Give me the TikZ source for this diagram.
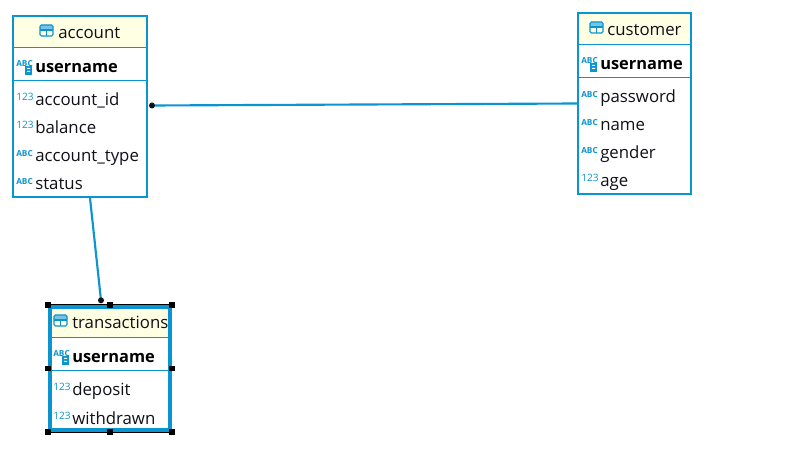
\documentclass[tikz,border=0pt]{standalone}
\usepackage{fontspec}
\setmainfont{Open Sans}
\definecolor{dbblue}{HTML}{0A94D0}
\definecolor{hdr}{HTML}{FFFFE3}
\definecolor{ink}{HTML}{101018}
\tikzset{
 x=0.75pt,y=-0.75pt,
 tablebox/.style={draw=dbblue,line width=1.7pt,fill=white,inner sep=0pt,anchor=north west},
 sepline/.style={draw=dbblue,line width=0.75pt},
 coltext/.style={anchor=base west,inner sep=0pt,font=\fontsize{12.6pt}{14pt}\selectfont,text=ink},
 keytext/.style={coltext,font=\fontsize{12.3pt}{14pt}\selectfont\bfseries,text=black},
 icontext/.style={anchor=base west,inner sep=0pt,font=\fontsize{7.6pt}{9pt}\selectfont,text=dbblue},
 abctext/.style={anchor=base west,inner sep=0pt,font=\fontsize{6.2pt}{7pt}\selectfont\bfseries,text=dbblue},
 link/.style={draw=dbblue,line width=1.6pt},
 linkdot/.style={circle,fill=ink,inner sep=0pt,minimum size=4.5pt},
 handle/.style={rectangle,fill=black,inner sep=0pt,minimum size=4.2pt},
}
% \tblicon{x}{y}: table glyph, top-left at x,y
\newcommand{\tblicon}[2]{
 \fill[dbblue!55,rounded corners=0.6pt] (#1,#2) rectangle ++(13,5);
 \draw[dbblue,line width=0.8pt,rounded corners=1pt] (#1,#2) rectangle ++(13,11);
 \draw[dbblue,line width=0.8pt] (#1,#2+5) -- ++(13,0) (#1+6.5,#2+5) -- ++(0,6);
}
\newcommand{\numcol}[3]{
 \node[icontext] at (#1,#2-5) {123};
 \node[coltext] at (#1+19,#2) {#3};
}
\newcommand{\abccol}[3]{
 \node[abctext] at (#1,#2-5) {ABC};
 \node[coltext] at (#1+19,#2) {#3};
}
\newcommand{\keycol}[3]{
 \node[abctext] at (#1,#2-6) {ABC};
 \fill[dbblue] (#1+9,#2-7) rectangle ++(7,9);
 \fill[white] (#1+11,#2-5) rectangle ++(3,1) (#1+11,#2-2) rectangle ++(3,1);
 \node[keytext] at (#1+19,#2) {#3};
}
\begin{document}
\begin{tikzpicture}
\useasboundingbox (0,0) rectangle (802,473);
\fill[white] (0,0) rectangle (802,473);

% account
\node[tablebox,minimum width=100.3pt,minimum height=135.55pt] (account) at (12,15) {};
\fill[hdr] (14,17) rectangle (146,47);
\draw[sepline] (13,47.5) -- (147,47.5) (13,80.5) -- (147,80.5);
\tblicon{40}{25}
\node[coltext] (accountT) at (58,39) {account};
\keycol{16}{73}{username}
\numcol{16}{106}{account\_id}
\numcol{16}{134}{balance}
\abccol{16}{162}{account\_type}
\abccol{16}{190}{status}

% customer
\node[tablebox,minimum width=84.55pt,minimum height=135.55pt] (customer) at (577,12) {};
\fill[hdr] (579,14) rectangle (690,44);
\draw[sepline] (578,44.5) -- (691,44.5) (578,77.5) -- (691,77.5);
\tblicon{590}{22}
\node[coltext] (customerT) at (607,36) {customer};
\keycol{581}{70}{username}
\abccol{581}{103}{password}
\abccol{581}{131}{name}
\abccol{581}{159}{gender}
\numcol{581}{187}{age}

% transactions
\node[tablebox,minimum width=90pt,minimum height=92.25pt,line width=3pt] (transactions) at (48,305) {};
\fill[hdr] (52,309) rectangle (168,337);
\draw[sepline] (50,337.5) -- (170,337.5) (50,370.5) -- (170,370.5);
\tblicon{54}{315}
\node[coltext] (transactionsT) at (72,329) {transactions};
\keycol{53}{363}{username}
\numcol{53}{396}{deposit}
\numcol{53}{424}{withdrawn}

% connectors
\draw[link] (account.east) ++(4,-1) coordinate (aEnd) -- (customer.west);
\node[linkdot] at (aEnd) {};
\coordinate (aBot) at ([xshift=7.5pt]account.south);
\coordinate (tTop) at ([xshift=-6.75pt,yshift=3.5pt]transactions.north);
\draw[link] (aBot) -- (tTop);
\node[linkdot] at (tTop) {};

% selection handles
\draw[black,line width=0.9pt] (48,304.5) -- (172,304.5) (48,432.5) -- (172,432.5);
\foreach \hx/\hy in {48/305,110/305,172/305,48/368.5,172/368.5,48/432,110/432,172/432}
  \node[handle] at (\hx,\hy) {};
\end{tikzpicture}
\end{document}
